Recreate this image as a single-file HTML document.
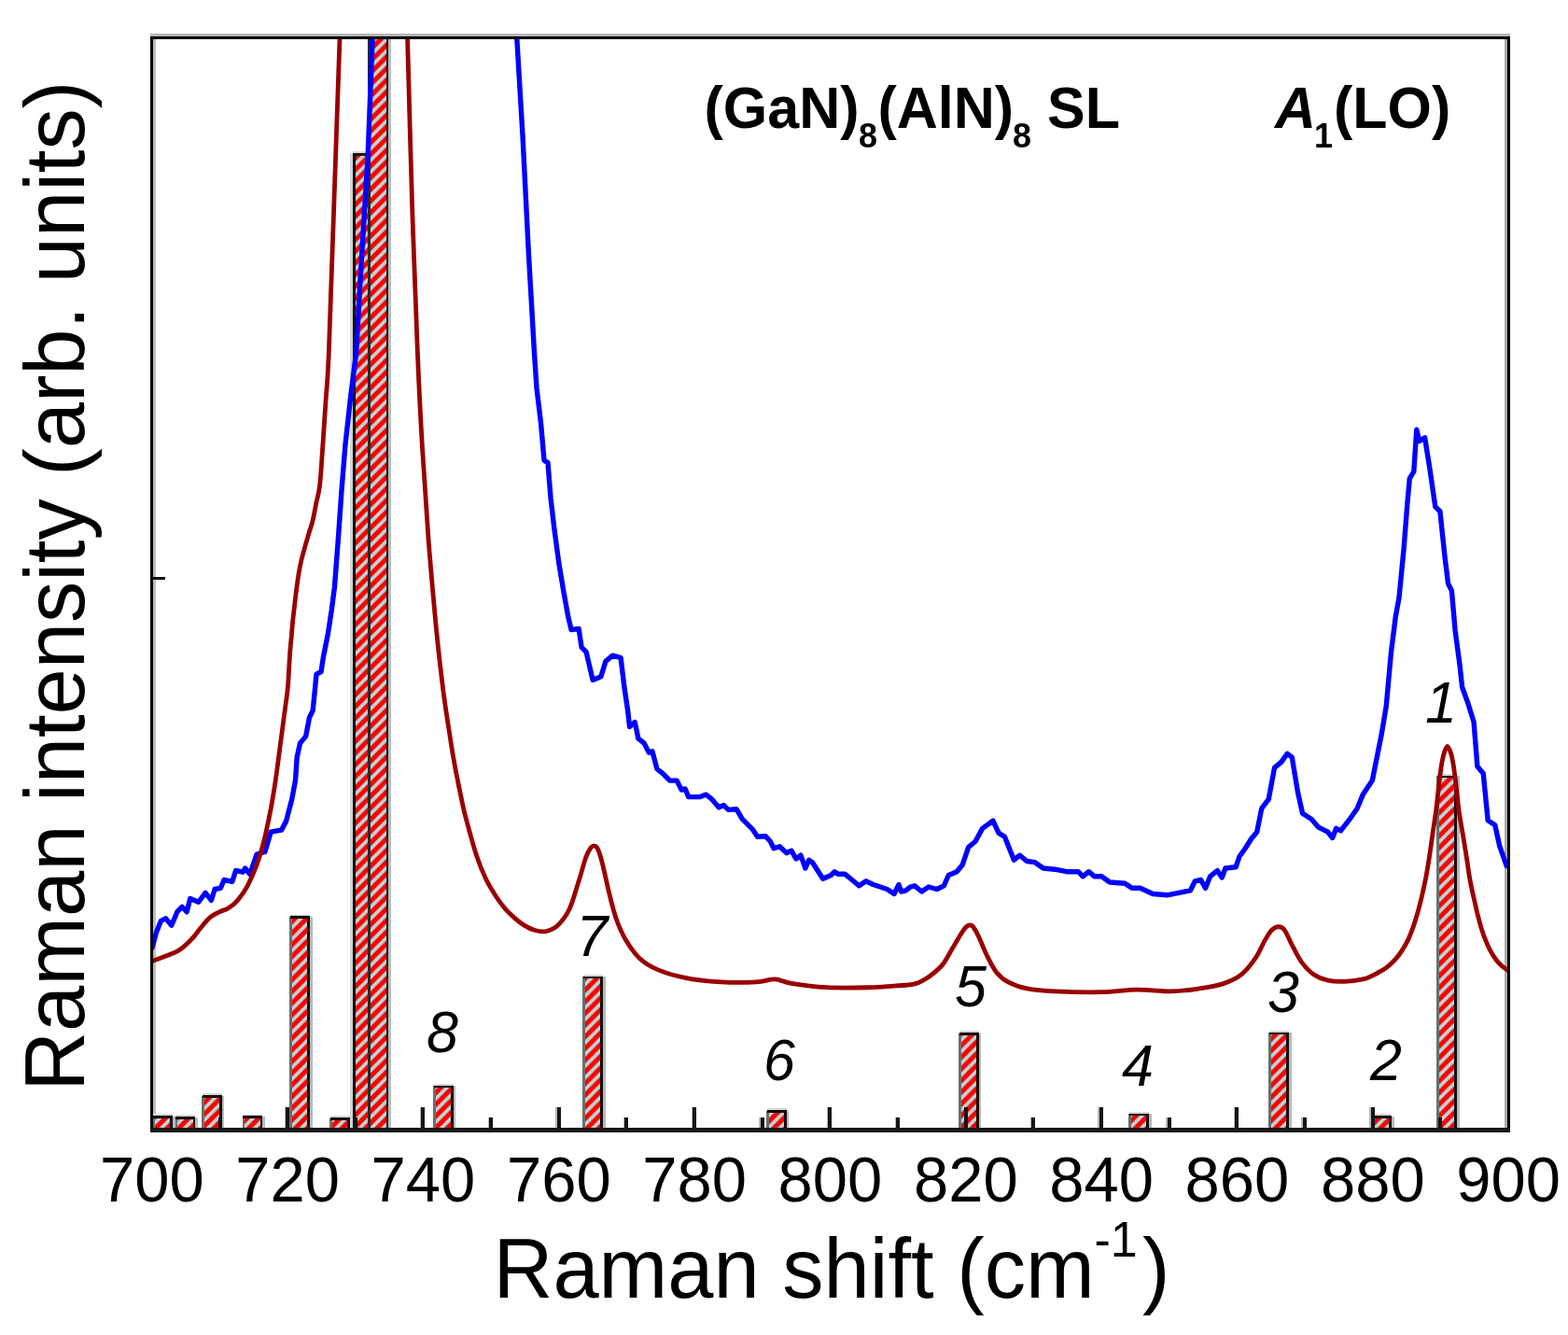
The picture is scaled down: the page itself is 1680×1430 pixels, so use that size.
<!DOCTYPE html>
<html lang="en">
<head>
<meta charset="utf-8">
<title>Raman spectrum of (GaN)8(AlN)8 SL</title>
<style>
html,body{margin:0;padding:0;background:#fff;}
body{width:1680px;height:1430px;overflow:hidden;}
svg{display:block;}
text{font-family:"Liberation Sans",sans-serif;fill:#000;}
.tick{font-size:67px;text-anchor:middle;}
.num{font-size:61px;font-style:italic;text-anchor:middle;}
.axis{font-size:88.5px;}
.ttl{font-size:61px;font-weight:bold;}
</style>
</head>
<body>
<svg width="1680" height="1430" viewBox="0 0 1680 1430">
<defs>
<pattern id="hatch" patternUnits="userSpaceOnUse" width="12.5" height="12.5">
<rect width="12.5" height="12.5" fill="#bcd6d6"/>
<path d="M-5,5 L5,-5 M-5,17.5 L17.5,-5 M7.5,17.5 L17.5,7.5" stroke="#ff0000" stroke-width="5"/>
</pattern>
<clipPath id="plot"><rect x="162.5" y="40.5" width="1453.0" height="1169.5"/></clipPath>
</defs>
<rect width="1680" height="1430" fill="#ffffff"/>
<g>

<g shape-rendering="crispEdges">
<rect x="161.3" y="36.4" width="1456.2" height="2.5" fill="#b6b6b6"/>
<rect x="164.1" y="41.8" width="2.4" height="1166" fill="#bcbcbc"/>
<rect x="1612.3" y="41.8" width="2.7" height="1166" fill="#aaaaaa"/>
</g>
<g shape-rendering="crispEdges">
<rect x="231.9" y="1196.5" width="1.6" height="13.5" fill="#b9b9b9"/>
<rect x="304.5" y="1186.0" width="1.6" height="24.0" fill="#b9b9b9"/>
<rect x="377.2" y="1196.5" width="1.6" height="13.5" fill="#b9b9b9"/>
<rect x="449.8" y="1186.0" width="1.6" height="24.0" fill="#b9b9b9"/>
<rect x="522.5" y="1196.5" width="1.6" height="13.5" fill="#b9b9b9"/>
<rect x="595.2" y="1186.0" width="1.6" height="24.0" fill="#b9b9b9"/>
<rect x="667.8" y="1196.5" width="1.6" height="13.5" fill="#b9b9b9"/>
<rect x="740.5" y="1186.0" width="1.6" height="24.0" fill="#b9b9b9"/>
<rect x="813.1" y="1196.5" width="1.6" height="13.5" fill="#b9b9b9"/>
<rect x="885.8" y="1186.0" width="1.6" height="24.0" fill="#b9b9b9"/>
<rect x="958.5" y="1196.5" width="1.6" height="13.5" fill="#b9b9b9"/>
<rect x="1031.1" y="1186.0" width="1.6" height="24.0" fill="#b9b9b9"/>
<rect x="1103.8" y="1196.5" width="1.6" height="13.5" fill="#b9b9b9"/>
<rect x="1176.4" y="1186.0" width="1.6" height="24.0" fill="#b9b9b9"/>
<rect x="1249.1" y="1196.5" width="1.6" height="13.5" fill="#b9b9b9"/>
<rect x="1321.8" y="1186.0" width="1.6" height="24.0" fill="#b9b9b9"/>
<rect x="1394.4" y="1196.5" width="1.6" height="13.5" fill="#b9b9b9"/>
<rect x="1467.1" y="1186.0" width="1.6" height="24.0" fill="#b9b9b9"/>
<rect x="1539.7" y="1196.5" width="1.6" height="13.5" fill="#b9b9b9"/>
</g>
<g clip-path="url(#plot)" shape-rendering="crispEdges">
<rect x="163.4" y="1195.6" width="2.8" height="14.4" fill="#667070"/>
<rect x="166.2" y="1196.0" width="16.2" height="14.0" fill="url(#hatch)"/>
<rect x="182.4" y="1195.6" width="2.8" height="14.4" fill="#1c0808"/>
<rect x="185.2" y="1195.6" width="2.4" height="14.4" fill="#b4bcbc"/>
<rect x="164.2" y="1193.4" width="21.0" height="1.6" fill="#d8d8d8"/>
<rect x="164.2" y="1195.0" width="21.0" height="2.6" fill="#101010"/>
<rect x="187.5" y="1196.6" width="2.8" height="13.4" fill="#667070"/>
<rect x="190.3" y="1197.0" width="16.2" height="13.0" fill="url(#hatch)"/>
<rect x="206.5" y="1196.6" width="2.8" height="13.4" fill="#1c0808"/>
<rect x="209.3" y="1196.6" width="2.4" height="13.4" fill="#b4bcbc"/>
<rect x="188.3" y="1194.4" width="21.0" height="1.6" fill="#d8d8d8"/>
<rect x="188.3" y="1196.0" width="21.0" height="2.6" fill="#101010"/>
<rect x="216.0" y="1173.6" width="2.8" height="36.4" fill="#667070"/>
<rect x="218.8" y="1174.0" width="16.2" height="36.0" fill="url(#hatch)"/>
<rect x="235.0" y="1173.6" width="2.8" height="36.4" fill="#1c0808"/>
<rect x="237.8" y="1173.6" width="2.4" height="36.4" fill="#b4bcbc"/>
<rect x="216.8" y="1171.4" width="21.0" height="1.6" fill="#d8d8d8"/>
<rect x="216.8" y="1173.0" width="21.0" height="2.6" fill="#101010"/>
<rect x="259.5" y="1196.0" width="2.8" height="14.0" fill="#667070"/>
<rect x="262.3" y="1196.4" width="16.2" height="13.6" fill="url(#hatch)"/>
<rect x="278.5" y="1196.0" width="2.8" height="14.0" fill="#1c0808"/>
<rect x="281.3" y="1196.0" width="2.4" height="14.0" fill="#b4bcbc"/>
<rect x="260.3" y="1193.8" width="21.0" height="1.6" fill="#d8d8d8"/>
<rect x="260.3" y="1195.4" width="21.0" height="2.6" fill="#101010"/>
<rect x="310.4" y="981.8" width="2.8" height="228.2" fill="#667070"/>
<rect x="313.2" y="982.2" width="16.2" height="227.8" fill="url(#hatch)"/>
<rect x="329.4" y="981.8" width="2.8" height="228.2" fill="#1c0808"/>
<rect x="332.2" y="981.8" width="2.4" height="228.2" fill="#b4bcbc"/>
<rect x="311.2" y="979.6" width="21.0" height="1.6" fill="#d8d8d8"/>
<rect x="311.2" y="981.2" width="21.0" height="2.6" fill="#101010"/>
<rect x="353.0" y="1197.6" width="2.8" height="12.4" fill="#667070"/>
<rect x="355.8" y="1198.0" width="16.2" height="12.0" fill="url(#hatch)"/>
<rect x="372.0" y="1197.6" width="2.8" height="12.4" fill="#1c0808"/>
<rect x="374.8" y="1197.6" width="2.4" height="12.4" fill="#b4bcbc"/>
<rect x="353.8" y="1195.4" width="21.0" height="1.6" fill="#d8d8d8"/>
<rect x="353.8" y="1197.0" width="21.0" height="2.6" fill="#101010"/>
<rect x="375.4" y="164.6" width="2.5" height="1045.4" fill="#d4d4d4"/>
<rect x="377.9" y="164.6" width="2.8" height="1045.4" fill="#101010"/>
<rect x="380.7" y="165.0" width="14.2" height="1045.0" fill="url(#hatch)"/>
<rect x="377.9" y="162.4" width="17.0" height="1.6" fill="#d8d8d8"/>
<rect x="377.9" y="164.0" width="17.0" height="2.6" fill="#101010"/>
<rect x="394.3" y="20.6" width="2.8" height="1189.4" fill="#2a2a2a"/>
<rect x="397.1" y="21.0" width="16.5" height="1189.0" fill="url(#hatch)"/>
<rect x="413.6" y="20.6" width="2.5" height="1189.4" fill="#1c0808"/>
<rect x="416.1" y="20.6" width="2.4" height="1189.4" fill="#b4bcbc"/>
<rect x="395.1" y="18.4" width="21.0" height="1.6" fill="#d8d8d8"/>
<rect x="395.1" y="20.0" width="21.0" height="2.6" fill="#101010"/>
<rect x="463.7" y="1163.2" width="2.8" height="46.8" fill="#667070"/>
<rect x="466.5" y="1163.6" width="16.2" height="46.4" fill="url(#hatch)"/>
<rect x="482.7" y="1163.2" width="2.8" height="46.8" fill="#1c0808"/>
<rect x="485.5" y="1163.2" width="2.4" height="46.8" fill="#b4bcbc"/>
<rect x="464.5" y="1161.0" width="21.0" height="1.6" fill="#d8d8d8"/>
<rect x="464.5" y="1162.6" width="21.0" height="2.6" fill="#101010"/>
<rect x="624.4" y="1046.2" width="2.8" height="163.8" fill="#667070"/>
<rect x="627.2" y="1046.6" width="16.2" height="163.4" fill="url(#hatch)"/>
<rect x="643.4" y="1046.2" width="2.8" height="163.8" fill="#1c0808"/>
<rect x="646.2" y="1046.2" width="2.4" height="163.8" fill="#b4bcbc"/>
<rect x="625.2" y="1044.0" width="21.0" height="1.6" fill="#d8d8d8"/>
<rect x="625.2" y="1045.6" width="21.0" height="2.6" fill="#101010"/>
<rect x="821.2" y="1189.6" width="2.8" height="20.4" fill="#667070"/>
<rect x="824.0" y="1190.0" width="16.2" height="20.0" fill="url(#hatch)"/>
<rect x="840.2" y="1189.6" width="2.8" height="20.4" fill="#1c0808"/>
<rect x="843.0" y="1189.6" width="2.4" height="20.4" fill="#b4bcbc"/>
<rect x="822.0" y="1187.4" width="21.0" height="1.6" fill="#d8d8d8"/>
<rect x="822.0" y="1189.0" width="21.0" height="2.6" fill="#101010"/>
<rect x="1027.0" y="1106.6" width="2.8" height="103.4" fill="#667070"/>
<rect x="1029.8" y="1107.0" width="16.2" height="103.0" fill="url(#hatch)"/>
<rect x="1046.0" y="1106.6" width="2.8" height="103.4" fill="#1c0808"/>
<rect x="1048.8" y="1106.6" width="2.4" height="103.4" fill="#b4bcbc"/>
<rect x="1027.8" y="1104.4" width="21.0" height="1.6" fill="#d8d8d8"/>
<rect x="1027.8" y="1106.0" width="21.0" height="2.6" fill="#101010"/>
<rect x="1209.3" y="1193.1" width="2.8" height="16.9" fill="#667070"/>
<rect x="1212.1" y="1193.5" width="16.2" height="16.5" fill="url(#hatch)"/>
<rect x="1228.3" y="1193.1" width="2.8" height="16.9" fill="#1c0808"/>
<rect x="1231.1" y="1193.1" width="2.4" height="16.9" fill="#b4bcbc"/>
<rect x="1210.1" y="1190.9" width="21.0" height="1.6" fill="#d8d8d8"/>
<rect x="1210.1" y="1192.5" width="21.0" height="2.6" fill="#101010"/>
<rect x="1359.3" y="1106.4" width="2.8" height="103.6" fill="#667070"/>
<rect x="1362.1" y="1106.8" width="16.2" height="103.2" fill="url(#hatch)"/>
<rect x="1378.3" y="1106.4" width="2.8" height="103.6" fill="#1c0808"/>
<rect x="1381.1" y="1106.4" width="2.4" height="103.6" fill="#b4bcbc"/>
<rect x="1360.1" y="1104.2" width="21.0" height="1.6" fill="#d8d8d8"/>
<rect x="1360.1" y="1105.8" width="21.0" height="2.6" fill="#101010"/>
<rect x="1469.3" y="1195.6" width="2.8" height="14.4" fill="#667070"/>
<rect x="1472.1" y="1196.0" width="16.2" height="14.0" fill="url(#hatch)"/>
<rect x="1488.3" y="1195.6" width="2.8" height="14.4" fill="#1c0808"/>
<rect x="1491.1" y="1195.6" width="2.4" height="14.4" fill="#b4bcbc"/>
<rect x="1470.1" y="1193.4" width="21.0" height="1.6" fill="#d8d8d8"/>
<rect x="1470.1" y="1195.0" width="21.0" height="2.6" fill="#101010"/>
<rect x="1539.3" y="831.2" width="2.8" height="378.8" fill="#667070"/>
<rect x="1542.1" y="831.6" width="16.2" height="378.4" fill="url(#hatch)"/>
<rect x="1558.3" y="831.2" width="2.8" height="378.8" fill="#1c0808"/>
<rect x="1561.1" y="831.2" width="2.4" height="378.8" fill="#b4bcbc"/>
<rect x="1540.1" y="829.0" width="21.0" height="1.6" fill="#d8d8d8"/>
<rect x="1540.1" y="830.6" width="21.0" height="2.6" fill="#101010"/>
</g>
<g shape-rendering="crispEdges">
<rect x="233.5" y="1196.5" width="3.8" height="13.5" fill="#141414"/>
<rect x="306.1" y="1186.0" width="3.8" height="24.0" fill="#141414"/>
<rect x="378.8" y="1196.5" width="3.8" height="13.5" fill="#141414"/>
<rect x="451.4" y="1186.0" width="3.8" height="24.0" fill="#141414"/>
<rect x="524.1" y="1196.5" width="3.8" height="13.5" fill="#141414"/>
<rect x="596.8" y="1186.0" width="3.8" height="24.0" fill="#141414"/>
<rect x="669.4" y="1196.5" width="3.8" height="13.5" fill="#141414"/>
<rect x="742.1" y="1186.0" width="3.8" height="24.0" fill="#141414"/>
<rect x="814.7" y="1196.5" width="3.8" height="13.5" fill="#141414"/>
<rect x="887.4" y="1186.0" width="3.8" height="24.0" fill="#141414"/>
<rect x="960.1" y="1196.5" width="3.8" height="13.5" fill="#141414"/>
<rect x="1032.7" y="1186.0" width="3.8" height="24.0" fill="#141414"/>
<rect x="1105.4" y="1196.5" width="3.8" height="13.5" fill="#141414"/>
<rect x="1178.0" y="1186.0" width="3.8" height="24.0" fill="#141414"/>
<rect x="1250.7" y="1196.5" width="3.8" height="13.5" fill="#141414"/>
<rect x="1323.4" y="1186.0" width="3.8" height="24.0" fill="#141414"/>
<rect x="1396.0" y="1196.5" width="3.8" height="13.5" fill="#141414"/>
<rect x="1468.7" y="1186.0" width="3.8" height="24.0" fill="#141414"/>
<rect x="1541.3" y="1196.5" width="3.8" height="13.5" fill="#141414"/>
<rect x="162.5" y="617.5" width="14" height="3.2" fill="#0a0a0a"/>
</g>
<g clip-path="url(#plot)" fill="none" stroke-linejoin="round" stroke-linecap="round">
<polyline points="163.0,1015.1 167.5,998.8 172.5,986.3 177.5,983.8 183.8,991.3 190.1,976.3 195.1,971.3 200.1,976.8 203.8,962.5 212.6,966.3 220.1,956.3 226.4,964.3 230.1,952.5 236.4,951.3 240.1,942.5 248.9,944.3 252.6,932.5 260.2,934.2 262.7,930.0 267.7,936.3 275.2,915.0 283.9,912.5 290.2,891.2 301.5,889.2 306.5,879.9 312.7,856.2 316.5,836.1 318.2,811.1 321.5,796.1 327.7,788.6 331.5,768.5 335.2,761.0 337.7,735.9 339.0,722.2 344.0,719.7 346.5,703.4 351.5,678.4 355.3,653.3 358.5,628.3 362.3,578.3 365.8,528.2 369.8,478.1 375.3,428.1 381.6,377.9 387.8,270.3 394.1,167.7 399.1,41.3 399.8,20.0" stroke="#0000ff" stroke-width="5.4"/>
<polyline points="553.3,30.0 553.8,41.0 560.0,145.0 566.3,270.0 572.5,378.0 575.0,415.5 579.5,453.1 583.0,493.1 587.0,495.6 590.0,533.2 593.8,565.7 598.8,603.3 603.8,633.3 608.8,660.9 612.1,674.6 620.1,673.4 623.1,693.4 628.1,698.4 635.1,728.4 643.9,724.7 648.9,708.4 656.4,702.2 665.1,704.7 668.9,736.0 672.6,761.0 674.6,778.6 680.2,773.5 683.9,791.1 690.2,796.1 695.2,806.1 698.9,804.8 703.9,823.6 710.2,828.6 717.7,836.1 725.2,836.1 730.2,846.1 734.0,844.9 737.7,853.6 750.2,853.6 756.5,851.1 762.8,856.2 770.3,864.9 775.3,862.4 780.3,867.4 789.0,866.7 795.3,877.4 801.6,883.7 806.6,888.7 811.6,896.2 820.3,895.7 825.3,901.2 829.1,908.7 835.3,906.7 842.9,913.7 847.9,911.2 852.9,920.0 857.9,916.2 862.9,930.0 866.6,921.2 870.4,923.7 881.7,941.3 890.4,937.5 894.2,933.7 897.9,936.3 905.4,936.3 912.9,942.5 920.5,948.8 928.0,943.8 935.5,947.5 943.0,950.0 950.5,952.5 958.0,957.5 963.0,947.5 965.5,955.0 970.5,953.8 975.5,950.0 980.0,948.8 987.5,955.0 995.0,950.0 1003.8,952.5 1011.3,948.8 1016.3,937.5 1025.1,933.7 1031.3,926.2 1037.6,907.5 1045.1,901.2 1052.6,887.4 1063.9,879.2 1070.1,892.4 1076.4,896.2 1086.4,921.2 1092.6,916.2 1100.2,922.5 1108.9,923.7 1117.7,930.0 1130.2,931.2 1142.7,933.7 1155.2,933.7 1160.2,938.8 1166.5,933.7 1172.7,938.8 1180.3,938.8 1189.0,945.0 1205.3,946.3 1212.8,951.3 1221.6,951.3 1235.3,957.5 1250.3,958.8 1262.9,956.3 1275.4,953.8 1280.4,943.8 1286.6,942.5 1291.6,951.3 1296.6,938.8 1304.2,932.5 1309.2,940.0 1312.9,930.0 1324.2,928.7 1327.9,917.5 1334.2,908.7 1340.5,898.7 1346.7,891.2 1351.7,866.2 1359.2,856.2 1365.5,822.4 1373.0,816.1 1379.2,807.3 1384.3,811.1 1390.5,848.6 1395.5,871.2 1405.2,877.4 1412.7,886.2 1422.7,891.2 1427.7,897.5 1431.5,887.4 1436.5,889.9 1445.2,878.7 1454.0,866.2 1460.3,851.1 1470.3,836.1 1475.3,811.1 1480.3,786.1 1485.3,756.0 1490.3,700.4 1495.3,660.3 1499.0,640.3 1504.1,587.7 1507.8,540.2 1510.3,512.6 1514.8,505.1 1517.8,460.1 1520.8,472.6 1526.6,468.8 1531.6,500.1 1537.8,542.7 1542.9,547.7 1547.9,595.2 1551.6,625.3 1555.4,632.8 1559.1,675.3 1564.1,712.9 1566.6,736.0 1572.9,753.5 1579.1,773.5 1582.9,821.1 1589.2,828.6 1594.2,878.7 1601.7,883.7 1606.7,906.2 1614.2,927.5" stroke="#0000ff" stroke-width="5.4"/>
<path d="M163.0,1029.4C167.5,1027.6 183.1,1022.7 190.1,1018.9C197.1,1015.0 200.9,1010.5 205.1,1006.3C209.3,1002.2 211.8,997.8 215.1,993.8C218.4,989.9 221.8,985.4 225.1,982.6C228.4,979.7 231.8,978.5 235.1,976.8C238.5,975.1 241.8,974.7 245.1,972.5C248.5,970.4 251.8,967.7 255.1,963.8C258.5,959.8 261.8,955.0 265.2,948.8C268.5,942.5 272.2,934.2 275.2,926.2C278.1,918.3 280.2,911.2 282.7,901.2C285.2,891.2 288.1,877.0 290.2,866.2C292.3,855.3 293.5,847.4 295.2,836.1C296.9,824.9 298.5,811.1 300.2,798.6C301.9,786.1 303.8,771.5 305.2,761.0C306.6,750.6 307.5,746.3 308.4,736.0C309.3,725.7 310.0,708.1 310.7,699.0C311.4,689.9 311.8,687.3 312.3,681.5C312.8,675.7 313.2,669.6 313.8,664.0C314.4,658.4 315.1,652.9 315.7,647.7C316.3,642.5 316.9,637.2 317.5,632.6C318.1,628.0 318.6,624.2 319.2,620.0C319.8,615.8 320.5,611.6 321.3,607.6C322.1,603.6 322.8,600.5 323.8,596.3C324.9,592.1 326.4,587.0 327.6,582.6C328.9,578.2 330.1,574.2 331.3,570.0C332.6,565.8 333.9,562.7 335.1,557.5C336.4,552.3 337.6,545.0 338.8,538.8C340.1,532.5 341.4,530.1 342.6,520.0C343.8,509.9 344.7,493.0 345.8,478.0C346.9,463.0 347.9,446.7 349.0,430.0C350.1,413.3 350.8,413.0 352.3,378.0C353.8,343.0 355.8,276.4 357.8,220.3C359.7,164.1 362.9,74.7 364.0,41.3C365.2,7.9 364.7,23.5 364.8,20.0" stroke="#990000" stroke-width="4.8"/>
<path d="M435.9,20.0C436.0,23.5 435.7,7.9 436.6,41.3C437.6,74.7 439.8,164.1 441.6,220.3C443.4,276.4 445.6,335.0 447.4,378.0C449.2,421.0 450.4,444.8 452.4,478.1C454.4,511.5 456.6,544.9 459.1,578.3C461.7,611.6 465.4,652.1 467.9,678.4C470.5,704.7 472.4,720.1 474.4,736.0C476.4,751.9 478.0,762.2 479.7,773.5C481.4,784.8 483.0,794.8 484.5,804.0C486.0,813.2 487.1,819.4 488.9,828.6C490.7,837.8 493.3,850.6 495.1,859.0C496.9,867.4 497.2,869.2 499.8,878.7C502.4,888.2 507.0,905.8 510.5,916.2C513.9,926.7 517.1,934.2 520.5,941.3C523.8,948.3 527.2,953.6 530.5,958.8C533.8,964.0 537.2,968.6 540.5,972.5C543.8,976.5 547.3,979.6 550.5,982.6C553.8,985.5 556.3,987.8 560.0,990.1C563.7,992.4 568.3,995.1 572.5,996.3C576.7,997.6 580.9,998.4 585.0,997.6C589.2,996.7 593.4,995.3 597.5,991.3C601.7,987.4 606.3,981.7 610.1,973.8C613.8,965.9 617.2,952.9 620.1,943.8C623.0,934.6 625.5,924.6 627.6,918.7C629.7,912.9 631.1,910.8 632.6,908.7C634.1,906.6 635.1,906.2 636.3,906.2C637.6,906.2 638.6,905.8 640.1,908.7C641.6,911.6 643.0,915.8 645.1,923.7C647.2,931.7 650.1,946.3 652.6,956.3C655.1,966.3 657.2,975.5 660.1,983.8C663.0,992.2 666.0,999.2 670.1,1006.3C674.3,1013.4 679.3,1020.9 685.2,1026.4C691.0,1031.8 696.8,1035.3 705.2,1038.9C713.5,1042.4 724.0,1045.5 735.2,1047.6C746.5,1049.8 760.3,1051.2 772.8,1051.9C785.3,1052.6 800.7,1052.4 810.3,1051.9C819.9,1051.4 824.1,1048.6 830.3,1048.9C836.6,1049.1 838.7,1051.9 847.9,1053.4C857.0,1054.9 870.8,1056.9 885.4,1057.7C900.0,1058.4 923.0,1057.9 935.5,1057.7C948.0,1057.4 953.1,1056.5 960.5,1055.9C967.9,1055.3 974.2,1055.5 980.0,1053.9C985.8,1052.3 990.3,1049.5 995.0,1046.4C999.8,1043.2 1005.2,1038.5 1008.5,1035.0C1011.8,1031.5 1013.3,1028.1 1015.1,1025.2C1016.9,1022.3 1018.0,1020.0 1019.5,1017.5C1021.0,1015.0 1022.2,1012.9 1023.8,1010.2C1025.4,1007.5 1027.3,1004.2 1029.0,1001.5C1030.7,998.8 1032.5,995.9 1034.0,994.2C1035.5,992.5 1036.4,991.5 1037.8,991.2C1039.2,990.9 1040.7,990.5 1042.6,992.6C1044.4,994.7 1046.3,998.6 1048.8,1003.8C1051.3,1009.0 1054.5,1017.6 1057.6,1023.9C1060.7,1030.1 1063.9,1036.7 1067.6,1041.4C1071.4,1046.1 1074.7,1049.0 1080.1,1051.9C1085.5,1054.8 1091.8,1057.2 1100.2,1058.9C1108.5,1060.6 1116.8,1061.3 1130.2,1061.9C1143.5,1062.5 1165.6,1063.0 1180.3,1062.7C1194.9,1062.4 1205.3,1060.3 1217.8,1060.2C1230.3,1060.0 1244.1,1062.1 1255.3,1061.9C1266.5,1061.7 1275.9,1060.2 1285.0,1058.9C1294.2,1057.6 1302.6,1056.4 1310.1,1053.9C1317.6,1051.4 1324.2,1048.5 1330.1,1043.9C1335.9,1039.3 1340.9,1032.4 1345.1,1026.4C1349.3,1020.3 1352.2,1012.6 1355.1,1007.6C1358.0,1002.6 1360.1,998.8 1362.6,996.3C1365.1,993.8 1367.8,992.6 1370.1,992.6C1372.4,992.6 1373.9,992.8 1376.4,996.3C1378.9,999.9 1382.0,1008.0 1385.2,1013.8C1388.3,1019.7 1391.4,1026.4 1395.2,1031.4C1398.9,1036.4 1403.1,1040.8 1407.7,1043.9C1412.3,1047.0 1417.3,1048.9 1422.7,1050.1C1428.1,1051.4 1434.0,1051.6 1440.2,1051.4C1446.5,1051.2 1455.3,1049.9 1460.3,1048.9C1465.2,1047.9 1467.1,1046.4 1470.0,1045.2C1472.9,1044.0 1474.8,1043.0 1477.5,1041.4C1480.2,1039.8 1483.4,1038.1 1486.3,1035.8C1489.2,1033.5 1492.3,1030.7 1495.0,1027.7C1497.7,1024.7 1500.2,1021.2 1502.5,1017.6C1504.8,1014.0 1506.9,1010.4 1508.8,1006.4C1510.7,1002.4 1512.2,998.3 1513.8,993.9C1515.4,989.5 1516.8,984.7 1518.2,980.1C1519.6,975.5 1520.8,970.9 1521.9,966.3C1523.1,961.7 1524.0,957.4 1525.1,952.6C1526.1,947.8 1527.2,943.1 1528.2,937.5C1529.2,931.9 1530.2,926.2 1531.3,918.8C1532.4,911.4 1533.8,901.5 1535.0,893.0C1536.2,884.5 1537.7,875.0 1538.7,867.6C1539.7,860.2 1540.1,855.1 1540.8,848.8C1541.5,842.5 1542.3,835.2 1543.0,830.0C1543.7,824.8 1544.1,821.4 1544.8,817.5C1545.5,813.6 1546.3,809.5 1547.3,806.5C1548.3,803.5 1549.6,799.5 1550.8,799.5C1552.0,799.5 1553.4,803.5 1554.4,806.5C1555.4,809.5 1556.2,813.6 1556.9,817.5C1557.6,821.4 1558.0,824.8 1558.7,830.0C1559.4,835.2 1560.2,842.5 1560.9,848.8C1561.6,855.1 1562.0,860.2 1563.0,867.6C1564.0,875.0 1565.8,884.5 1567.2,893.0C1568.6,901.5 1570.2,911.4 1571.4,918.8C1572.6,926.2 1573.2,931.9 1574.1,937.5C1575.0,943.1 1576.0,947.8 1577.0,952.6C1578.0,957.4 1579.0,961.7 1580.1,966.3C1581.1,970.9 1582.1,975.5 1583.3,980.1C1584.5,984.7 1585.7,989.5 1587.0,993.9C1588.3,998.3 1589.8,1002.4 1591.4,1006.4C1593.0,1010.4 1594.5,1014.0 1596.4,1017.6C1598.3,1021.2 1600.6,1024.9 1602.7,1027.7C1604.8,1030.5 1607.0,1032.7 1608.9,1034.5C1610.8,1036.3 1612.1,1037.0 1613.9,1038.3C1615.8,1039.5 1619.0,1041.4 1620.0,1042.0" stroke="#990000" stroke-width="4.8"/>
</g>
<g shape-rendering="crispEdges">
<rect x="161.3" y="38.9" width="1456.2" height="2.9" fill="#000"/>
<rect x="161.3" y="38.9" width="2.8" height="1174" fill="#000"/>
<rect x="1615" y="38.9" width="2.5" height="1174" fill="#000"/>
<rect x="161.3" y="1207.9" width="1456.2" height="5" fill="#1a1a1a"/>
</g>
<g transform="translate(0,1286.8) scale(1,1.035)">
<text class="tick" x="162.9" y="0">700</text>
<text class="tick" x="308.2" y="0">720</text>
<text class="tick" x="453.5" y="0">740</text>
<text class="tick" x="598.9" y="0">760</text>
<text class="tick" x="744.2" y="0">780</text>
<text class="tick" x="889.5" y="0">800</text>
<text class="tick" x="1034.8" y="0">820</text>
<text class="tick" x="1180.1" y="0">840</text>
<text class="tick" x="1325.5" y="0">860</text>
<text class="tick" x="1470.8" y="0">880</text>
<text class="tick" x="1616.1" y="0">900</text>
</g>
<text class="num" transform="translate(474.0,1127.0) scale(1,1.035)">8</text>
<text class="num" transform="translate(634.5,1024.0) scale(1,1.035)">7</text>
<text class="num" transform="translate(835.0,1157.0) scale(1,1.035)">6</text>
<text class="num" transform="translate(1040.0,1077.5) scale(1,1.035)">5</text>
<text class="num" transform="translate(1219.0,1163.0) scale(1,1.035)">4</text>
<text class="num" transform="translate(1375.0,1084.0) scale(1,1.035)">3</text>
<text class="num" transform="translate(1485.0,1157.0) scale(1,1.035)">2</text>
<text class="num" transform="translate(1544.0,774.0) scale(1,1.035)">1</text>
<g transform="translate(0,1390) scale(1,1.035)">
<text class="axis" x="528.5" y="0">Raman shift (cm<tspan font-size="52" x="1172.5" y="-42.5">-1</tspan><tspan x="1224" y="0">)</tspan></text>
</g>
<text class="axis" transform="translate(90,1168.8) rotate(-90) scale(1,1.035)">Raman intensity (arb. units)</text>
<g transform="translate(0,137) scale(1,1.035)">
<text class="ttl" y="0"><tspan x="754.5">(GaN)</tspan><tspan font-size="36" x="920" y="20">8</tspan><tspan x="940.5" y="0">(AlN)</tspan><tspan font-size="36" x="1085" y="20">8</tspan><tspan x="1122" y="0">SL</tspan></text>
<text class="ttl" y="0"><tspan font-style="italic" x="1366">A</tspan><tspan font-size="36" x="1408" y="20">1</tspan><tspan x="1429" y="0">(LO)</tspan></text>
</g>
</g>
</svg>
</body>
</html>
